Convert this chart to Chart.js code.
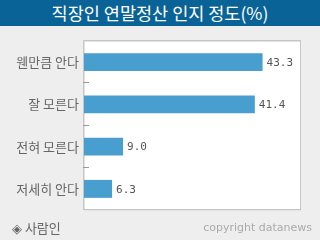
<!DOCTYPE html>
<html>
<head>
<meta charset="utf-8">
<script src="https://cdn.jsdelivr.net/npm/chart.js@4/dist/chart.umd.min.js"></script>
<style>
  html, body { margin: 0; padding: 0; }
  body { width: 320px; height: 240px; background: #eeeeee; position: relative; overflow: hidden; font-family: 'Noto Sans CJK KR', sans-serif; }
  #title { position: absolute; left: 0; top: 0; width: 320px; height: 26px; background: #0a6396; color: #fff; font-size: 17.5px; line-height: 26px; text-align: center; }
  #chartBox { position: absolute; left: 0; top: 0; width: 320px; height: 240px; }
  #source { position: absolute; left: 12px; top: 218px; font-size: 13px; color: #666; line-height: 20px; }
  #copy { position: absolute; right: 8px; top: 219px; font-family: 'DejaVu Sans', sans-serif; font-size: 11px; color: #aaa; line-height: 18px; }
</style>
</head>
<body>
<div id="chartBox"><canvas id="awarenessChart" width="320" height="240"></canvas></div>
<div id="title">직장인 연말정산 인지 정도(%)</div>
<div id="source">◈ 사람인</div>
<div id="copy">copyright datanews</div>
<script>
const categories = ['웬만큼 안다', '잘 모른다', '전혀 모른다', '저세히 안다'];
const shares = [43.3, 41.4, 9.0, 6.3];
const xMin = -0.6;
const xMax = 52.5;

// white plot box with grey border
const plotBox = {
    id: 'plotBox',
    beforeDraw(chart) {
        const { ctx, chartArea } = chart;
        ctx.save();
        ctx.fillStyle = '#ffffff';
        ctx.fillRect(chartArea.left, chartArea.top, chartArea.right - chartArea.left, chartArea.bottom - chartArea.top);
        ctx.strokeStyle = '#e2e2e2';
        ctx.lineWidth = 1;
        ctx.strokeRect(chartArea.left - 0.5 + 1, chartArea.top - 0.5 + 1, chartArea.right - chartArea.left, chartArea.bottom - chartArea.top);
        ctx.strokeStyle = '#c6c6c6';
        ctx.strokeRect(chartArea.left - 0.5, chartArea.top - 0.5, chartArea.right - chartArea.left + 1, chartArea.bottom - chartArea.top);
        ctx.restore();
    }
};

// little ticks between the categories, pointing inward
const innerTicks = {
    id: 'innerTicks',
    afterDraw(chart) {
        const { ctx, chartArea } = chart;
        const yScale = chart.scales.y;
        ctx.save();
        ctx.strokeStyle = '#999999';
        ctx.lineWidth = 1;
        for (let i = 1; i < categories.length; i++) {
            const y = Math.round((yScale.getPixelForValue(i - 1) + yScale.getPixelForValue(i)) / 2) - 0.5;
            ctx.beginPath();
            ctx.moveTo(chartArea.left - 1, y);
            ctx.lineTo(chartArea.left + 5, y);
            ctx.stroke();
        }
        ctx.restore();
    }
};

// value labels at the end of each bar
const valueLabels = {
    id: 'valueLabels',
    afterDatasetsDraw(chart) {
        const { ctx } = chart;
        const meta = chart.getDatasetMeta(0);
        ctx.save();
        ctx.font = '11px "DejaVu Sans Mono", monospace';
        ctx.fillStyle = '#555555';
        ctx.textAlign = 'left';
        ctx.textBaseline = 'middle';
        meta.data.forEach((bar, i) => {
            ctx.fillText(shares[i].toFixed(1), bar.x + 4, bar.y + 1);
        });
        ctx.restore();
    }
};

const ctx = document.getElementById('awarenessChart').getContext('2d');
new Chart(ctx, {
    type: 'bar',
    data: {
        labels: categories,
        datasets: [{
            data: shares,
            base: xMin,
            backgroundColor: '#489fcf',
            borderWidth: 0,
            categoryPercentage: 1,
            barPercentage: 0.425
        }]
    },
    options: {
        indexAxis: 'y',
        responsive: false,
        animation: false,
        layout: { padding: { left: 0, top: 41, right: 20, bottom: 30 } },
        plugins: {
            legend: { display: false },
            tooltip: { enabled: false }
        },
        scales: {
            x: {
                display: false,
                min: xMin,
                max: xMax
            },
            y: {
                afterFit(scale) { scale.width = 84; },
                border: { display: false },
                grid: { display: false, drawTicks: false },
                ticks: {
                    color: '#666666',
                    padding: 5,
                    font: { family: '"Noto Sans CJK KR", sans-serif', size: 13 }
                }
            }
        }
    },
    plugins: [plotBox, innerTicks, valueLabels]
});
</script>
</body>
</html>
